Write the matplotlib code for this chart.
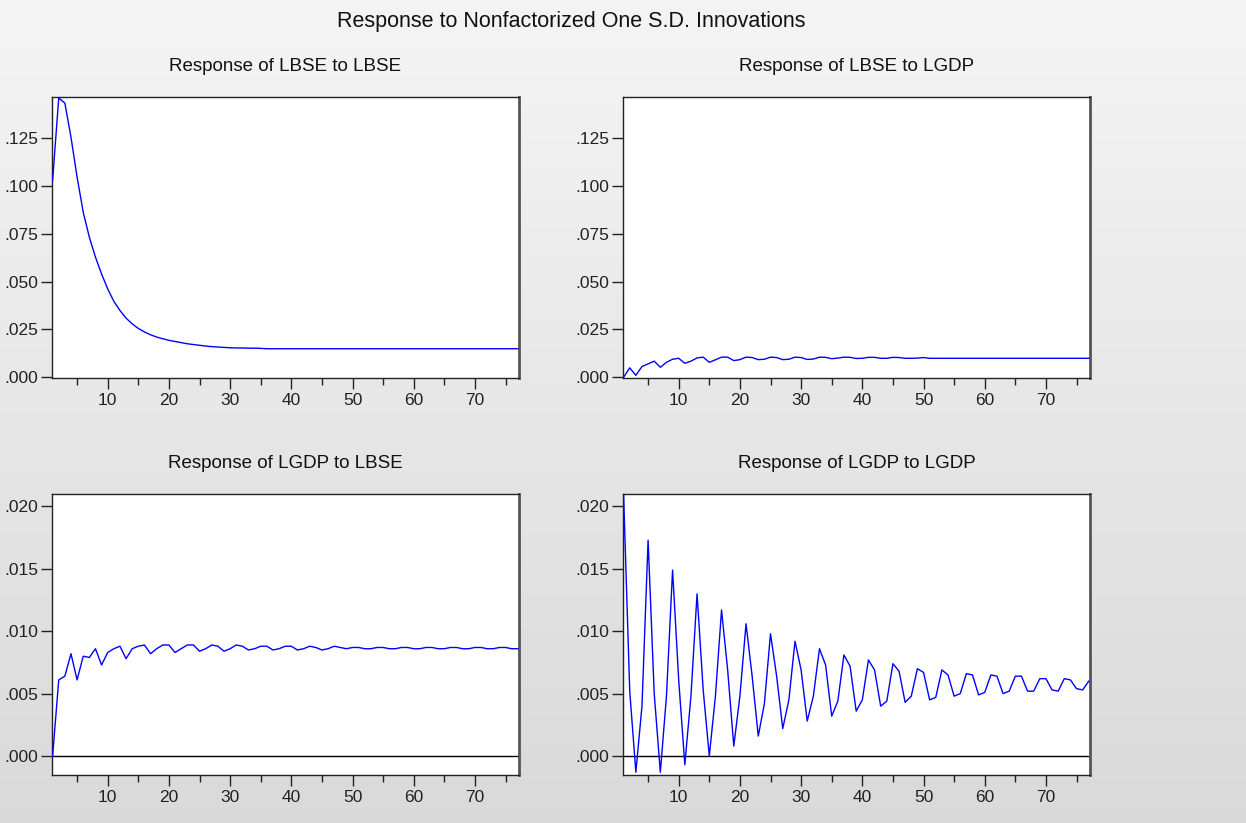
import numpy as np
import matplotlib
matplotlib.use("Agg")
import matplotlib.pyplot as plt
from matplotlib.ticker import FixedLocator, FuncFormatter

plt.rcParams['font.family'] = ['Liberation Sans', 'DejaVu Sans']

periods = list(range(1, 78))

lbse_to_lbse = [
    0.1029, 0.1460, 0.1433, 0.1255, 0.1046, 0.0863, 0.0732, 0.0628, 0.0540, 0.0462,
    0.0397, 0.0349, 0.0309, 0.0279, 0.0255, 0.0237, 0.0222, 0.0210, 0.0201, 0.0193,
    0.0187, 0.0181, 0.0175, 0.0171, 0.0167, 0.0163, 0.0160, 0.0158, 0.0156, 0.0154,
    0.0153, 0.0153, 0.0152, 0.0152, 0.0151, 0.0149, 0.0149, 0.0149, 0.0149, 0.0149,
    0.0149, 0.0149, 0.0149, 0.0149, 0.0149, 0.0149, 0.0149, 0.0149, 0.0149, 0.0149,
    0.0149, 0.0149, 0.0149, 0.0149, 0.0149, 0.0149, 0.0149, 0.0149, 0.0149, 0.0149,
    0.0149, 0.0149, 0.0149, 0.0149, 0.0149, 0.0149, 0.0149, 0.0149, 0.0149, 0.0149,
    0.0149, 0.0149, 0.0149, 0.0149, 0.0149, 0.0149, 0.0149,
]

lbse_to_lgdp = [
    0.0000, 0.0049, 0.0010, 0.0056, 0.0070, 0.0084, 0.0052, 0.0078, 0.0094, 0.0099,
    0.0073, 0.0084, 0.0101, 0.0105, 0.0078, 0.0091, 0.0105, 0.0105, 0.0087, 0.0092,
    0.0105, 0.0103, 0.0092, 0.0094, 0.0105, 0.0103, 0.0092, 0.0094, 0.0105, 0.0103,
    0.0093, 0.0095, 0.0105, 0.0104, 0.0097, 0.0100, 0.0105, 0.0104, 0.0098, 0.0099,
    0.0104, 0.0104, 0.0099, 0.0099, 0.0104, 0.0103, 0.0099, 0.0099, 0.0100, 0.0103,
    0.0099, 0.0099, 0.0099, 0.0099, 0.0099, 0.0099, 0.0099, 0.0099, 0.0099, 0.0099,
    0.0099, 0.0099, 0.0099, 0.0099, 0.0099, 0.0099, 0.0099, 0.0099, 0.0099, 0.0099,
    0.0099, 0.0099, 0.0099, 0.0099, 0.0099, 0.0099, 0.0099,
]

lgdp_to_lbse = [
    0.0000, 0.0061, 0.0064, 0.0082, 0.0061, 0.0080, 0.0079, 0.0086, 0.0073, 0.0083,
    0.0086, 0.0088, 0.0078, 0.0086, 0.0088, 0.0089, 0.0082, 0.0086, 0.0089, 0.0089,
    0.0083, 0.0086, 0.0089, 0.0089, 0.0084, 0.0086, 0.0089, 0.0088, 0.0084, 0.0086,
    0.0089, 0.0088, 0.0085, 0.0086, 0.0088, 0.0088, 0.0085, 0.0086, 0.0088, 0.0088,
    0.0085, 0.0086, 0.0088, 0.0087, 0.0085, 0.0086, 0.0088, 0.0087, 0.0086, 0.0087,
    0.0087, 0.0086, 0.0086, 0.0087, 0.0087, 0.0086, 0.0086, 0.0087, 0.0087, 0.0086,
    0.0086, 0.0087, 0.0087, 0.0086, 0.0086, 0.0087, 0.0087, 0.0086, 0.0086, 0.0087,
    0.0087, 0.0086, 0.0086, 0.0087, 0.0087, 0.0086, 0.0086,
]

lgdp_to_lgdp = [
    0.0209, 0.0052, -0.0013, 0.0040, 0.0173, 0.0050, -0.0013, 0.0048, 0.0149, 0.0061,
    -0.0007, 0.0048, 0.0130, 0.0053, 0.0000, 0.0048, 0.0117, 0.0069, 0.0008, 0.0048,
    0.0106, 0.0064, 0.0016, 0.0042, 0.0098, 0.0064, 0.0022, 0.0045, 0.0092, 0.0069,
    0.0028, 0.0048, 0.0086, 0.0073, 0.0032, 0.0044, 0.0081, 0.0072, 0.0036, 0.0045,
    0.0077, 0.0069, 0.0040, 0.0044, 0.0074, 0.0068, 0.0043, 0.0048, 0.0070, 0.0067,
    0.0045, 0.0047, 0.0069, 0.0065, 0.0048, 0.0050, 0.0066, 0.0065, 0.0049, 0.0051,
    0.0065, 0.0064, 0.0050, 0.0052, 0.0064, 0.0064, 0.0052, 0.0052, 0.0062, 0.0062,
    0.0053, 0.0052, 0.0062, 0.0061, 0.0054, 0.0053, 0.0060,
]

titles = ["Response of LBSE to LBSE", "Response of LBSE to LGDP",
          "Response of LGDP to LBSE", "Response of LGDP to LGDP"]
series = [lbse_to_lbse, lbse_to_lgdp, lgdp_to_lbse, lgdp_to_lgdp]
suptitle = "Response to Nonfactorized One S.D. Innovations"

top_yticks = [0.000, 0.025, 0.050, 0.075, 0.100, 0.125]
bot_yticks = [0.000, 0.005, 0.010, 0.015, 0.020]
xticks_major = [10, 20, 30, 40, 50, 60, 70]
xticks_minor = [5, 15, 25, 35, 45, 55, 65, 75]

W, H = 1246, 823
fig = plt.figure(figsize=(W / 100, H / 100), dpi=100)

# background gradient
bg = fig.add_axes([0, 0, 1, 1], zorder=-10)
grad = np.linspace(0.955, 0.85, 256).reshape(-1, 1)
bg.imshow(grad, aspect='auto', cmap='gray', vmin=0, vmax=1, extent=[0, 1, 0, 1])
bg.set_axis_off()


def fmt(v, pos):
    s = f"{v:.3f}"
    if s.startswith("-0"):
        s = "-" + s[2:]
    elif s.startswith("0"):
        s = s[1:]
    if s == "-.000":
        s = ".000"
    return s


def px_rect(left, top, right, bottom):
    return [left / W, 1 - bottom / H, (right - left) / W, (bottom - top) / H]


rects = [px_rect(52, 97, 519, 378), px_rect(623, 97, 1090, 378),
         px_rect(52, 494, 519, 775), px_rect(623, 494, 1090, 775)]
ylims = [(-0.0004, 0.1465), (-0.0004, 0.1465), (-0.00152, 0.0210), (-0.00152, 0.0210)]

for i in range(4):
    ax = fig.add_axes(rects[i])
    ax.set_facecolor('white')
    ax.plot(periods, series[i], color='#0000ff', lw=1.0, zorder=3)
    ax.set_xlim(0.9, 77.2)
    ax.set_ylim(*ylims[i])
    if i >= 2:
        ax.axhline(0, color='black', lw=1.0, zorder=2)
        ax.yaxis.set_major_locator(FixedLocator(bot_yticks))
    else:
        ax.yaxis.set_major_locator(FixedLocator(top_yticks))
    ax.yaxis.set_major_formatter(FuncFormatter(fmt))
    ax.xaxis.set_major_locator(FixedLocator(xticks_major))
    ax.xaxis.set_minor_locator(FixedLocator(xticks_minor))
    ax.tick_params(axis='both', which='major', direction='out', length=8, width=1,
                   labelsize=12.5, colors='#222222', labelcolor='#222222')
    ax.tick_params(axis='x', which='minor', direction='out', length=5, width=1,
                   colors='#222222')
    ax.tick_params(axis='x', pad=3)
    ax.tick_params(axis='y', pad=2)
    for s in ax.spines.values():
        s.set_color('#222222')
        s.set_linewidth(1.0)
    ax.spines['right'].set_color('#555555')
    ax.spines['right'].set_linewidth(2.0)
    ax.set_title(titles[i], fontsize=13.5, pad=19, color='#111111')

fig.text(571 / W, 1 - 21 / H, suptitle, ha='center', va='center',
         fontsize=15.5, color='#111111')

fig.savefig("out.png", dpi=100)
